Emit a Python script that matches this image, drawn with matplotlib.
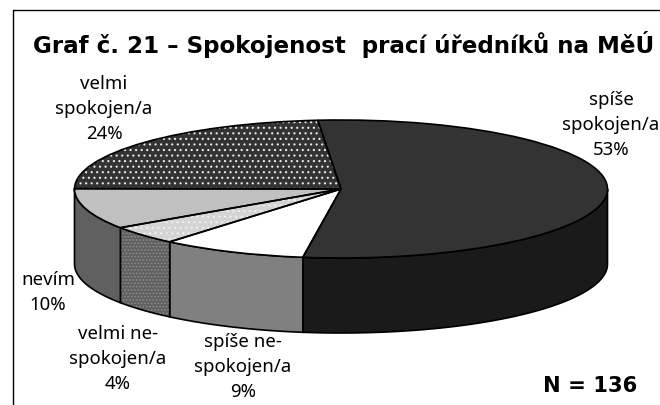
import numpy as np
import matplotlib
matplotlib.use('Agg')
import matplotlib.pyplot as plt
from matplotlib.lines import Line2D

plt.rcParams['font.family'] = ['Noto Sans', 'DejaVu Sans']
plt.rcParams['hatch.linewidth'] = 0.8

W, H = 660, 406

# counts behind the percentages, N = 136, clockwise from the top
labels = ['spíše\nspokojen/a\n53%', 'spíše ne-\nspokojen/a\n9%', 'velmi ne-\nspokojen/a\n4%',
          'nevím\n10%', 'velmi\nspokojen/a\n24%']
counts = [73, 12, 6, 13, 32]
top_colors = ['#333333', '#ffffff', '#d4d4d4', '#c0c0c0', '#333333']
side_colors = ['#1a1a1a', '#808080', '#606060', '#606060', '#1a1a1a']
top_hatch = [None, None, '...', None, '...']
top_dots = ['none', 'none', '#f0f0f0', 'none', '#e8e8e8']
label_x = [611, 243, 118, 48, 104]
label_y = [125, 367, 359, 293, 109]

# pie geometry in pixels
cx, cy, rx, ry, depth = 341, 190, 266.5, 69, 75
start = 95.0
lw = 1.2


def setup_axes():
    ax.set_aspect('auto')
    ax.set_xlim(-cx / rx, (W - cx) / rx)
    ax.set_ylim((cy - H) / ry, cy / ry)
    ax.set_xticks([])
    ax.set_yticks([])


fig = plt.figure(figsize=(W / 100, H / 100), dpi=100)
ax = fig.add_axes([0, 0, 1, 1])

# fills and dot patterns first, then the black outlines on top
wedges, _ = ax.pie(counts, colors=top_colors, startangle=start, counterclock=False, frame=True)
for w, h, c, f in zip(wedges, top_hatch, top_dots, top_colors):
    w.set_zorder(3)
    w.set_linewidth(0)
    w.set_edgecolor(c)
    w.set_facecolor(f)
    if h:
        w.set_hatch(h)
outlines, _ = ax.pie(counts, colors=['none'] * len(counts), startangle=start, counterclock=False,
                     wedgeprops={'edgecolor': 'black', 'linewidth': lw}, frame=True)
for w in outlines:
    w.set_zorder(4)
setup_axes()
for s in ax.spines.values():
    s.set_visible(False)

# side walls, only the front half of the disc shows one
d = depth / ry
edges = start - np.cumsum([0] + counts) / sum(counts) * 360
for i in range(len(counts)):
    a0 = min(max(edges[i], -180), 0)
    a1 = min(max(edges[i + 1], -180), 0)
    if a0 <= a1:
        continue
    t = np.radians(np.linspace(a0, a1, 80))
    x, y = np.cos(t), np.sin(t)
    xs, ys = np.r_[x, x[::-1]], np.r_[y, y[::-1] - d]
    if i == 2:
        ax.fill(xs, ys, facecolor=side_colors[i], edgecolor='#8c8c8c', linewidth=0, hatch='.....', zorder=2)
        ax.fill(xs, ys, facecolor='none', edgecolor='black', linewidth=lw, zorder=2)
    else:
        ax.fill(xs, ys, facecolor=side_colors[i], edgecolor='black', linewidth=lw, zorder=2)

for lab, lx, ly in zip(labels, label_x, label_y):
    fig.text(lx / W, 1 - ly / H, lab, ha='center', va='center', fontsize=13.4,
             linespacing=1.5, color='black', zorder=6)

fig.text(33 / W, 1 - 44 / H, 'Graf č. 21 – Spokojenost  prací úředníků na MěÚ', fontsize=16.6,
         family='DejaVu Sans', fontweight='bold', ha='left', va='center', color='black')
fig.text(543 / W, 1 - 386 / H, 'N = 136', fontsize=15.2, family='DejaVu Sans', fontweight='bold',
         ha='left', va='center', color='black')

# chart border, the picture is cropped on the right and at the bottom
fig.add_artist(Line2D([12.5 / W, 12.5 / W, 1], [0, 1 - 10.5 / H, 1 - 10.5 / H], color='black', linewidth=1))

fig.savefig('out.png', dpi=100)
